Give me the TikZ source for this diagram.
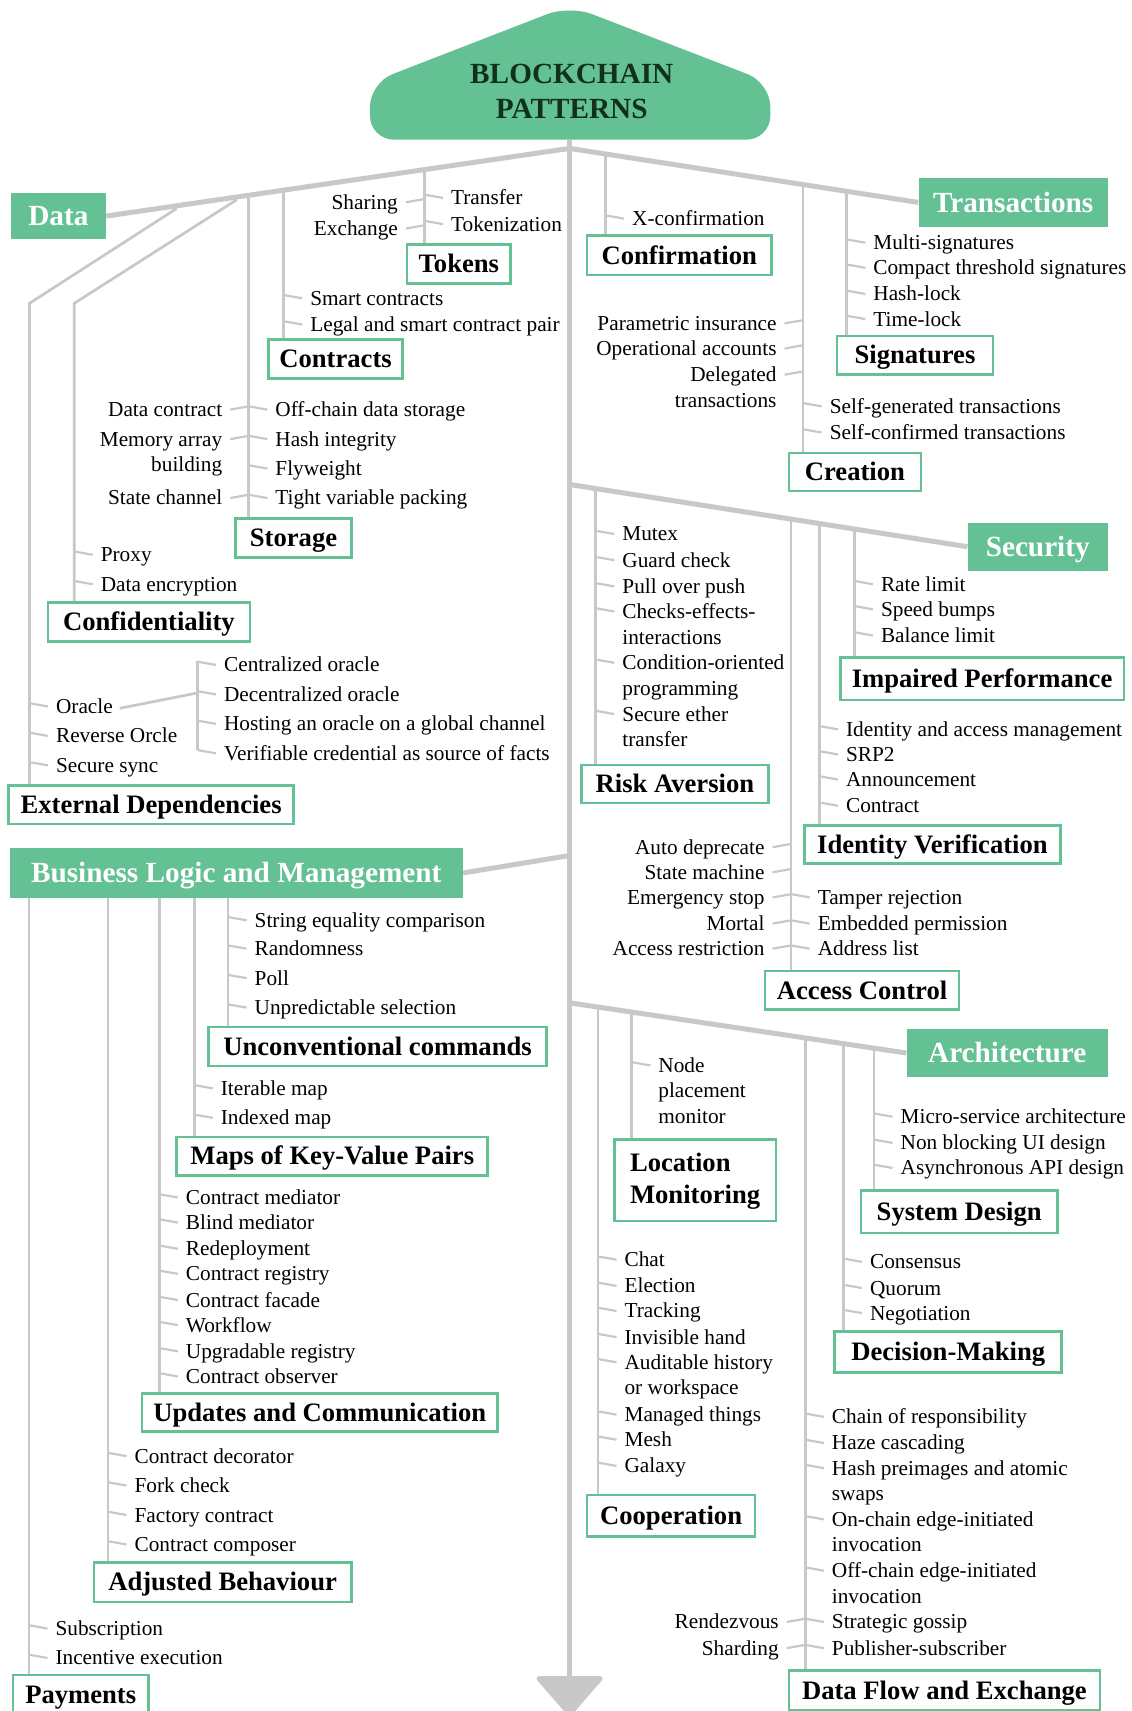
\documentclass[tikz,border=0pt]{standalone}
\usepackage{fontspec}
\setmainfont{Liberation Serif}
\usetikzlibrary{backgrounds}
\definecolor{patgreen}{RGB}{100,193,148}
\definecolor{linegray}{RGB}{200,200,200}
\definecolor{titletext}{RGB}{18,48,30}

\tikzset{
  trunk/.style={draw=linegray, line width=2.3pt},
  branch/.style={draw=linegray, line width=1.25pt},
  twig/.style={draw=linegray, line width=1pt},
  itemR/.style={font=\fontsize{9.75}{11.7}\selectfont, inner sep=0pt, align=left, anchor=north west},
  itemL/.style={itemR, align=right, anchor=north east},
  boxline/.style={draw=patgreen, line width=1.2pt, fill=white, inner sep=0pt, font=\fontsize{12.2}{14.5}\selectfont\bfseries},
  catbox/.style={boxline, text height=10pt, text depth=2pt},
  areabox/.style={fill=patgreen, text=white, inner sep=0pt, text height=11pt, text depth=2.1pt, font=\fontsize{13.4}{16}\selectfont\bfseries}
}

% items hanging to the right / left of a vertical line
\newcommand\itemsR[3]{%
  \foreach \y/\txt [count=\i] in {#3}{%
    \node[itemR] (#1\i) at (#2+24,\y-10) {\strut\txt};
    \draw[twig] ([shift={(-3.5pt,-5.2pt)}]#1\i.north west) -- ++(-8.5pt,1.5pt);
  }}
\newcommand\itemsL[3]{%
  \foreach \y/\txt [count=\i] in {#3}{%
    \node[itemL] (#1\i) at (#2-24,\y-10) {\strut\txt};
    \draw[twig] ([shift={(3.5pt,-5.2pt)}]#1\i.north east) -- ++(8.5pt,1.5pt);
  }}

\begin{document}
\begin{tikzpicture}[x=0.5pt,y=-0.5pt]
  \useasboundingbox (0,0) rectangle (1037,1568);

  % title and end of the spine
  \fill[patgreen, rounded corners=11pt] (339,128) -- (339,76) -- (522,5) -- (706,76) -- (706,128) -- cycle;
  \node[font=\fontsize{13.4}{16}\selectfont\bfseries, text=titletext, align=center] (title) at (524,84) {BLOCKCHAIN\\PATTERNS};
  \fill[linegray, rounded corners=3pt] (489,1536) -- (555,1536) -- (522,1574) -- cycle;

  % main areas
  \node[areabox, minimum width=43.5pt, minimum height=21pt] (data) at (53.5,198) {Data};
  \node[areabox, minimum width=86.5pt, minimum height=22.5pt] (trans) at (928.5,185.5) {Transactions};
  \node[areabox, minimum width=64pt, minimum height=22pt] (sec) at (951,501) {Security};
  \node[areabox, minimum width=207.5pt, minimum height=23pt] (blm) at (216.5,800) {Business Logic and Management};
  \node[areabox, minimum width=92pt, minimum height=22pt] (arch) at (923,965) {Architecture};

  % pattern groups
  \node[catbox, minimum width=47.5pt, minimum height=18pt] (tokens) at (420.5,242) {Tokens};
  \node[catbox, minimum width=61.5pt, minimum height=18pt] (contracts) at (307.5,329) {Contracts};
  \node[catbox, minimum width=53pt, minimum height=18pt] (storage) at (269,493) {Storage};
  \node[catbox, minimum width=92.5pt, minimum height=18pt] (confid) at (136.5,570) {Confidentiality};
  \node[catbox, minimum width=130.5pt, minimum height=17.5pt] (extdep) at (138.5,737.5) {External Dependencies};
  \node[catbox, minimum width=84.5pt, minimum height=18pt] (confirm) at (622.5,234) {Confirmation};
  \node[catbox, minimum width=71.5pt, minimum height=17.5pt] (signatures) at (838.5,325.5) {Signatures};
  \node[catbox, minimum width=60.5pt, minimum height=17.5pt] (creation) at (783.5,432.5) {Creation};
  \node[catbox, minimum width=85.5pt, minimum height=17.5pt] (riskav) at (618.5,718.5) {Risk Aversion};
  \node[catbox, minimum width=130pt, minimum height=19.5pt] (impaired) at (900,622) {Impaired Performance};
  \node[catbox, minimum width=117.5pt, minimum height=17.5pt] (identity) at (854.5,774) {Identity Verification};
  \node[catbox, minimum width=89pt, minimum height=17.5pt] (access) at (790,907.5) {Access Control};
  \node[catbox, minimum width=155pt, minimum height=18pt] (unconv) at (346,959) {Unconventional commands};
  \node[catbox, minimum width=142.5pt, minimum height=17.5pt] (maps) at (304.5,1059.5) {Maps of Key-Value Pairs};
  \node[catbox, minimum width=163pt, minimum height=17.5pt] (updates) at (293,1294.5) {Updates and Communication};
  \node[catbox, minimum width=118pt, minimum height=18pt] (adjusted) at (204,1450) {Adjusted Behaviour};
  \node[catbox, minimum width=62pt, minimum height=18pt] (payments) at (74,1553) {Payments};
  \node[boxline, minimum width=74pt, minimum height=37.5pt, align=left] (location) at (637,1081.5) {\rule{0pt}{9.5pt}Location\\Monitoring};
  \node[catbox, minimum width=77pt, minimum height=19pt] (cooper) at (615,1389) {Cooperation};
  \node[catbox, minimum width=90pt, minimum height=19.5pt] (sysdesign) at (879,1110.5) {System Design};
  \node[catbox, minimum width=104pt, minimum height=19pt] (decision) at (869,1239) {Decision-Making};
  \node[catbox, minimum width=142.5pt, minimum height=18pt] (dataflow) at (865.5,1549) {Data Flow and Exchange};

  % spine, areas and groups
  \begin{scope}[on background layer]
    \coordinate (sData) at (522,136);
    \coordinate (sSec) at (522,444);
    \coordinate (sBlm) at (522,784);
    \coordinate (sArc) at (522,919);
    \draw[trunk] (522,128) -- (522,1540);
    \draw[trunk] (sData) -- (data.east);
    \draw[trunk] (sData) -- (trans.west);
    \draw[trunk] (sSec) -- (sec.west);
    \draw[trunk] (sBlm) -- (blm.east);
    \draw[trunk] (sArc) -- (arch.west);

    \coordinate (bTok) at (389,156);
    \coordinate (bCon) at (260,176);
    \coordinate (bSto) at (228,181);
    \coordinate (bCfd) at (217,183);
    \coordinate (kCfd) at (68,278);
    \coordinate (bExt) at (162,191);
    \coordinate (kExt) at (27,278);
    \draw[branch] (bTok) -- (bTok |- tokens.north);
    \draw[branch] (bCon) -- (bCon |- contracts.north);
    \draw[branch] (bSto) -- (bSto |- storage.north);
    \draw[branch] (bCfd) -- (kCfd) -- (kCfd |- confid.north);
    \draw[branch] (bExt) -- (kExt) -- (kExt |- extdep.north);

    \coordinate (bCnf) at (555,141);
    \coordinate (bCre) at (736,169);
    \coordinate (bSig) at (776,175);
    \draw[branch] (bCnf) -- (bCnf |- confirm.north);
    \draw[branch] (bCre) -- (bCre |- creation.north);
    \draw[branch] (bSig) -- (bSig |- signatures.north);

    \coordinate (bRisk) at (546,448);
    \coordinate (bAcc) at (725,476);
    \coordinate (bIdv) at (751,480);
    \coordinate (bImp) at (783,485);
    \draw[branch] (bRisk) -- (bRisk |- riskav.north);
    \draw[branch] (bAcc) -- (bAcc |- access.north);
    \draw[branch] (bIdv) -- (bIdv |- identity.north);
    \draw[branch] (bImp) -- (bImp |- impaired.north);

    \coordinate (bPay) at (26.5,823);
    \coordinate (bAdj) at (99,823);
    \coordinate (bUpd) at (146,823);
    \coordinate (bMap) at (178,823);
    \coordinate (bUnc) at (209,823);
    \draw[branch] (bPay) -- (bPay |- payments.north);
    \draw[branch] (bAdj) -- (bAdj |- adjusted.north);
    \draw[branch] (bUpd) -- (bUpd |- updates.north);
    \draw[branch] (bMap) -- (bMap |- maps.north);
    \draw[branch] (bUnc) -- (bUnc |- unconv.north);

    \coordinate (bCoo) at (548,923);
    \coordinate (bLoc) at (579,928);
    \coordinate (bDfe) at (738,952);
    \coordinate (bDec) at (773,957);
    \coordinate (bSys) at (801,961);
    \draw[branch] (bCoo) -- (bCoo |- cooper.north);
    \draw[branch] (bLoc) -- (bLoc |- location.north);
    \draw[branch] (bDfe) -- (bDfe |- dataflow.north);
    \draw[branch] (bDec) -- (bDec |- decision.north);
    \draw[branch] (bSys) -- (bSys |- sysdesign.north);
  \end{scope}

  % Data
  \itemsL{tokL}{389}{185/Sharing, 209/Exchange}
  \itemsR{tokR}{389}{181/Transfer, 205/Tokenization}
  \itemsR{con}{260}{273/Smart contracts, 297/Legal and smart contract pair}
  \itemsL{stoL}{228}{375/Data contract, 402/Memory array\\building, 456/State channel}
  \itemsR{stoR}{228}{375/Off-chain data storage, 402/Hash integrity, 429/Flyweight, 456/Tight variable packing}
  \itemsR{cfd}{68}{508/Proxy, 535/Data encryption}
  \itemsR{ext}{27}{647/Oracle, 674/Reverse Orcle, 701/Secure sync}
  \coordinate (orcTop) at (181,606);
  \coordinate (orcMid) at (181,635);
  \coordinate (orcBot) at (181,687);
  \draw[branch] (orcTop) -- (orcBot);
  \draw[branch] ([xshift=3pt]ext1.east) -- (orcMid);
  \itemsR{orc}{181}{609/Centralized oracle, 636/Decentralized oracle, 663/Hosting an oracle on a global channel, 690/Verifiable credential as source of facts}

  % Transactions
  \itemsR{cnf}{555}{200/X-confirmation}
  \itemsR{sig}{776}{222/Multi-signatures, 245/Compact threshold signatures, 269/Hash-lock, 292/Time-lock}
  \itemsL{creL}{736}{296/Parametric insurance, 319/Operational accounts, 343/Delegated\\transactions}
  \itemsR{creR}{736}{372/Self-generated transactions, 396/Self-confirmed transactions}

  % Security
  \itemsR{risk}{546}{489/Mutex, 513/Guard check, 537/Pull over push, 560/Checks-effects-\\interactions, 607/Condition-oriented\\programming, 654/Secure ether\\transfer}
  \itemsR{imp}{783}{535/Rate limit, 558/Speed bumps, 582/Balance limit}
  \itemsR{idv}{751}{668/Identity and access management, 691/SRP2, 714/Announcement, 738/Contract}
  \itemsL{accL}{725}{776/Auto deprecate, 799/State machine, 822/Emergency stop, 846/Mortal, 869/Access restriction}
  \itemsR{accR}{725}{822/Tamper rejection, 846/Embedded permission, 869/Address list}

  % Business logic and management
  \itemsR{unc}{209}{843/String equality comparison, 869/Randomness, 896/Poll, 923/Unpredictable selection}
  \itemsR{map}{178}{997/Iterable map, 1024/Indexed map}
  \itemsR{upd}{146}{1097/Contract mediator, 1120/Blind mediator, 1144/Redeployment, 1167/Contract registry, 1191/Contract facade, 1214/Workflow, 1238/Upgradable registry, 1261/Contract observer}
  \itemsR{adj}{99}{1334/Contract decorator, 1361/Fork check, 1388/Factory contract, 1415/Contract composer}
  \itemsR{pay}{26.5}{1492/Subscription, 1519/Incentive execution}

  % Architecture
  \itemsR{loc}{579}{976/Node\\placement\\monitor}
  \itemsR{coo}{548}{1154/Chat, 1178/Election, 1201/Tracking, 1225/Invisible hand, 1248/Auditable history\\or workspace, 1296/Managed things, 1319/Mesh, 1343/Galaxy}
  \itemsR{sys}{801}{1023/Micro-service architecture, 1047/Non blocking UI design, 1070/Asynchronous API design}
  \itemsR{dec}{773}{1156/Consensus, 1180/Quorum, 1203/Negotiation}
  \itemsR{dfeR}{738}{1298/Chain of responsibility, 1322/Haze cascading, 1345/Hash preimages and atomic\\swaps, 1392/On-chain edge-initiated\\invocation, 1439/Off-chain edge-initiated\\invocation, 1486/Strategic gossip, 1510/Publisher-subscriber}
  \itemsL{dfeL}{738}{1486/Rendezvous, 1510/Sharding}
\end{tikzpicture}
\end{document}
